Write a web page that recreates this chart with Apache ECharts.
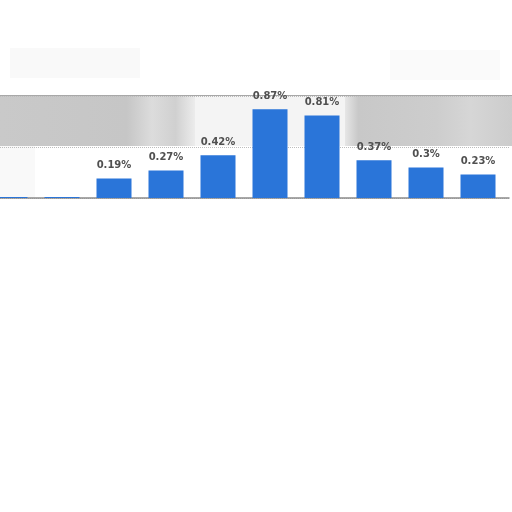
<!DOCTYPE html>
<html>
<head>
<meta charset="utf-8">
<script src="https://cdn.jsdelivr.net/npm/echarts@6/dist/echarts.min.js"></script>
<style>html,body{margin:0;padding:0;background:#fff}#c{width:512px;height:512px}</style>
</head>
<body>
<div id="c"></div>
<script>
var categories = ['1', '2', '3', '4', '5', '6', '7', '8', '9', '10'];
var shares = [0.01, 0.01, 0.19, 0.27, 0.42, 0.87, 0.81, 0.37, 0.3, 0.23];
var yTicks = [0, 0.5, 1];

var barData = categories.map(function (c, i) { return [i, shares[i]]; });

var chart = echarts.init(document.getElementById('c'));
chart.setOption({
  animation: false,
  backgroundColor: '#ffffff',
  graphic: [
    {type: 'rect', z: 0, shape: {x: 0, y: 95, width: 195, height: 51}, style: {fill: {type: 'linear', x: 0, y: 0, x2: 1, y2: 0, colorStops: [{offset: 0, color: '#c9c9c9'}, {offset: 0.65, color: '#c6c6c6'}, {offset: 0.78, color: '#dcdcdc'}, {offset: 0.9, color: '#d0d0d0'}, {offset: 1, color: '#ececec'}]}}},
    {type: 'rect', z: 0, shape: {x: 195, y: 95, width: 150, height: 51}, style: {fill: '#f4f4f4'}},
    {type: 'rect', z: 0, shape: {x: 345, y: 95, width: 167, height: 51}, style: {fill: {type: 'linear', x: 0, y: 0, x2: 1, y2: 0, colorStops: [{offset: 0, color: '#e6e6e6'}, {offset: 0.08, color: '#c8c8c8'}, {offset: 0.55, color: '#cdcdcd'}, {offset: 0.75, color: '#d6d6d6'}, {offset: 1, color: '#cccccc'}]}}},
    {type: 'line', z: 1, shape: {x1: 0, y1: 95.5, x2: 512, y2: 95.5}, style: {stroke: '#a8a8a8', lineWidth: 1}},
    {type: 'rect', z: 0, shape: {x: 10, y: 48, width: 130, height: 30}, style: {fill: '#f9f9f9'}},
    {type: 'rect', z: 0, shape: {x: 390, y: 50, width: 110, height: 30}, style: {fill: '#fafafa'}},
    {type: 'rect', z: 0, shape: {x: 0, y: 146, width: 35, height: 52}, style: {fill: '#f9f9f9'}}
  ],
  grid: {left: 0, right: 3, top: 96, bottom: 314, containLabel: false},
  xAxis: {
    type: 'value',
    min: -0.1923,
    max: 9.596,
    axisLine: {show: true, onZero: false, lineStyle: {color: '#8c8c8c', width: 1.5}},
    axisTick: {show: false},
    axisLabel: {show: false},
    splitLine: {show: false}
  },
  yAxis: {
    type: 'value',
    min: yTicks[0],
    max: yTicks[yTicks.length - 1],
    interval: 0.5,
    axisLine: {show: false},
    axisTick: {show: false},
    axisLabel: {show: false},
    splitLine: {show: true, lineStyle: {color: '#bdbdbd', type: 'dotted', width: 1}}
  },
  series: [{
    type: 'bar',
    data: barData,
    barWidth: 35,
    z: 3,
    itemStyle: {color: '#2a75d9'},
    label: {
      show: true,
      position: 'top',
      distance: 8,
      color: '#505050',
      fontFamily: 'DejaVu Sans',
      fontWeight: 'bold',
      fontSize: 10,
      formatter: function (p) { return p.value[1] < 0.05 ? '' : p.value[1] + '%'; }
    }
  }]
});
</script>
</body>
</html>
